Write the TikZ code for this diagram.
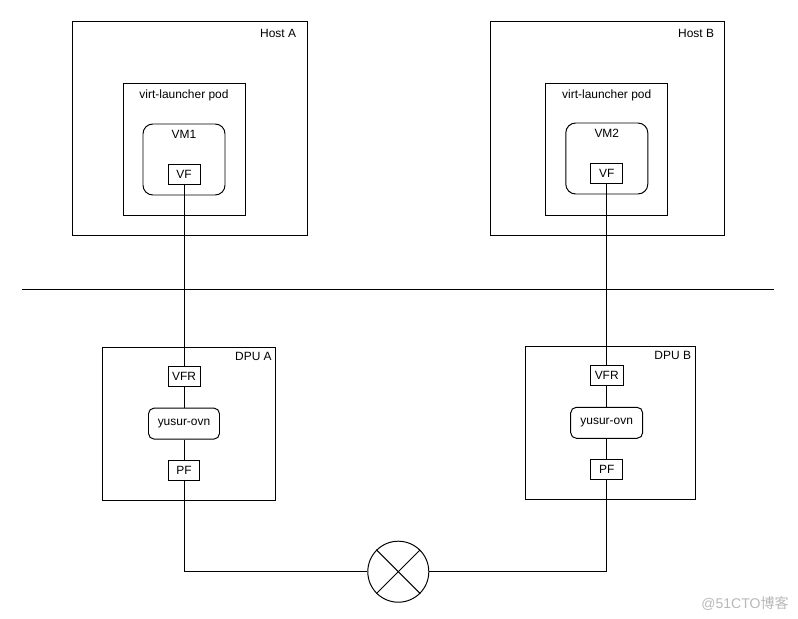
\documentclass[tikz,border=0pt]{standalone}
\usepackage{fontspec}
\setmainfont{Liberation Sans}
\newfontfamily\cjkfont{Noto Sans CJK SC}
\def\pxu{0.025cm}
\tikzset{
  box/.style={draw,rectangle,inner sep=0pt},
  soft/.style={box,rounded corners=7pt},
  tag/.style={inner sep=0pt,font=\fontsize{8.5}{10}\selectfont},
}
\begin{document}
\begin{tikzpicture}[x=0.025cm,y=-0.025cm,line width=0.7pt]
        \useasboundingbox (0,0) rectangle (798,619);

        % hosts
        \begin{scope}[every node/.style={box}]
          \node (hostA) at (189.5,128) [minimum width=235*\pxu,minimum height=214*\pxu] {};
          \node (hostB) at (607,128)   [minimum width=234*\pxu,minimum height=214*\pxu] {};
          \node (podA)  at (184,149.5) [minimum width=122*\pxu,minimum height=132*\pxu] {};
          \node (podB)  at (606.7,149) [minimum width=122*\pxu,minimum height=132*\pxu] {};
        \end{scope}

        \begin{scope}[every node/.style={soft,fill=white}]
          \node (vmA) at (184,159.5)   [minimum width=82*\pxu,minimum height=71*\pxu] {};
          \node (vmB) at (606.8,158.5) [minimum width=82*\pxu,minimum height=71*\pxu] {};
        \end{scope}

        % dpus
        \begin{scope}[every node/.style={box}]
          \node (dpuA) at (189.2,423.6) [minimum width=173*\pxu,minimum height=153*\pxu] {};
          \node (dpuB) at (610,422.5)   [minimum width=170*\pxu,minimum height=153*\pxu] {};
        \end{scope}

        \draw (22,289) -- (774,289);

        \begin{scope}[every node/.style={box,fill=white,tag,minimum height=20*\pxu}]
          \node (vfA)  at (184,174.6)   [minimum width=32*\pxu] {VF};
          \node (vfB)  at (606.7,173.6) [minimum width=32*\pxu] {VF};
          \node (vfrA) at (184,376)     [minimum width=32*\pxu] {VFR};
          \node (vfrB) at (606.7,375)   [minimum width=33*\pxu] {VFR};
          \node (pfA)  at (184,470)     [minimum width=31*\pxu] {PF};
          \node (pfB)  at (606.7,469.2) [minimum width=32*\pxu] {PF};
          \node (ovnA) at (184,423.6)   [rounded corners=4pt,minimum width=71*\pxu,minimum height=31*\pxu] {yusur-ovn};
          \node (ovnB) at (606.7,422.8) [rounded corners=4pt,minimum width=72*\pxu,minimum height=31*\pxu] {yusur-ovn};
        \end{scope}

        % labels
        \begin{scope}[every node/.style={tag}]
          \node [anchor=north east] at ([xshift=-11*\pxu,yshift=-8*\pxu]hostA.north east) {Host A};
          \node [anchor=north east] at ([xshift=-10*\pxu,yshift=-8*\pxu]hostB.north east) {Host B};
          \node at ([yshift=-12.7*\pxu]podA.north) {virt-launcher pod};
          \node at ([yshift=-12.7*\pxu]podB.north) {virt-launcher pod};
          \node at ([yshift=-11*\pxu]vmA.north) {VM1};
          \node at ([yshift=-11*\pxu]vmB.north) {VM2};
          \node [anchor=east] at ([xshift=-4*\pxu,yshift=-9.5*\pxu]dpuA.north east) {DPU A};
          \node [anchor=east] at ([xshift=-4*\pxu,yshift=-9.5*\pxu]dpuB.north east) {DPU B};
        \end{scope}

        % switch
        \node (sw) at (398.3,571.7) [draw,circle,minimum size=61*\pxu,inner sep=0pt] {};
        \draw (sw.north west) -- (sw.south east);
        \draw (sw.north east) -- (sw.south west);

        \draw (vfA) -- (vfrA);
        \draw (vfrA) -- (ovnA);
        \draw (ovnA) -- (pfA);
        \draw (vfB) -- (vfrB);
        \draw (vfrB) -- (ovnB);
        \draw (ovnB) -- (pfB);
        \draw (pfA.south) |- (sw.west);
        \draw (sw.east) -| (pfB.south);

        \node (mark) at (745,603) [text=black!28,inner sep=0pt,font=\fontsize{10}{12}\selectfont] {@51CTO{\cjkfont 博客}};

      \end{tikzpicture}
\end{document}
